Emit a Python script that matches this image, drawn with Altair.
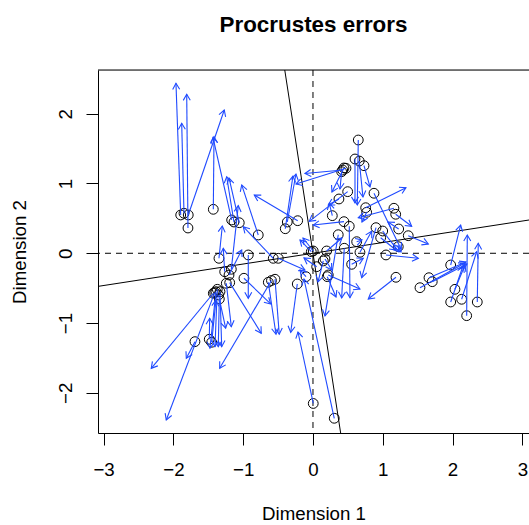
import math
import altair as alt
import pandas as pd

# Procrustes: target points (circles) and rotated points (arrow heads)
circle_x = [-1.895, -1.791, -1.848, -1.787, -1.428, -1.165, -1.132, -1.056, -0.784, -0.219,
            -0.368, -0.397, -1.347, -1.170, -0.569, -0.497, -0.927, -0.989, -1.193, -1.242,
            -1.265, -1.203, -0.640, -0.544, -0.595, -0.225, 0.004, 0.305, -1.428, -1.408,
            -1.390, -1.371, -1.342, -1.332, -1.354, -1.691, -1.486, -1.451, -0.100, -0.024,
            0.649, 0.602, 0.663, 0.731, 0.426, 0.473, 0.444, 0.411, 0.497, 0.372,
            0.277, 0.444, 0.874, 0.755, 0.769, 1.160, 1.185, 1.228, 1.365, 0.903,
            0.999, 0.970, 1.046, 1.222, 1.189, 0.673, 0.626, 0.554, 0.520, 0.448,
            0.362, 0.219, 0.205, 0.004, 0.196, 0.148, 0.053, 0.172, 1.973, 2.202,
            2.354, 2.130, 1.662, 1.709, 1.533, 2.034, 1.973]
circle_y = [0.549, 0.362, 0.573, 0.549, 0.630, 0.477, 0.448, 0.438, 0.262, 0.467,
            0.448, 0.352, -0.072, -0.229, -0.072, -0.072, -0.024, -0.358, -0.421, -0.430,
            -0.264, -0.311, -0.415, -0.372, -0.390, -0.440, -2.152, -2.364, -0.573, -0.564,
            -0.550, -0.516, -0.655, -0.550, -0.597, -1.266, -1.232, -1.275, -0.335, 0.023,
            1.623, 1.351, 1.322, 1.255, 1.193, 1.218, 1.222, 1.169, 0.883, 0.778,
            0.539, 0.453, 0.860, 0.653, 0.587, 0.645, 0.559, 0.348, 0.252, 0.367,
            0.319, 0.223, -0.024, 0.095, -0.344, 0.014, 0.166, -0.158, 0.387, 0.072,
            0.266, -0.311, -0.335, 0.033, 0.033, -0.110, -0.192, -0.082, -0.168, -0.894,
            -0.698, -0.659, -0.350, -0.407, -0.493, -0.516, -0.698]
head_x = [-1.963, -1.809, -1.881, -1.271, -1.418, -1.433, -1.236, -1.203, -1.021, -0.841,
          -0.244, -0.287, -1.299, -1.070, -0.999, -0.115, -0.927, -0.606, -0.741, -1.170,
          -1.285, -1.021, -0.530, -0.483, -1.337, -0.319, -0.215, -0.129, -2.317, -2.102,
          -1.476, -1.404, -1.357, -1.308, -1.251, -1.815, -1.480, -1.390, -0.186, -0.186,
          0.635, 0.602, 0.716, 0.817, -0.115, -0.244, 0.272, 0.387, -0.053, 0.219,
          0.234, 0.004, 1.261, 1.332, 0.702, 0.649, 1.414, 1.074, 1.652, 0.698,
          1.232, 1.189, 1.509, 1.261, 0.792, 0.841, 0.702, 0.721, 0.530, 0.411,
          0.172, 0.673, 0.330, -0.143, 0.415, 0.072, -0.129, 0.269, 2.116, 2.211,
          2.368, 2.345, 2.192, 2.206, 2.178, 2.178, 2.149]
head_y = [2.436, 2.278, 1.862, 2.053, 1.670, 1.659, 1.097, 1.079, 0.979, 0.835,
          1.136, 1.107, 0.391, 0.682, 0.381, -0.239, -0.645, -0.726, -1.146, -1.052,
          0.072, 0.047, -1.160, -1.160, -1.648, -1.132, -1.128, -0.368, -1.648, -2.388,
          -1.361, -1.338, -1.338, -1.338, -1.074, -1.504, -0.931, -0.669, -0.239, 0.191,
          0.692, 0.721, 0.807, 0.950, 1.143, 0.993, 0.878, 0.921, 0.458, 0.692,
          0.716, 0.405, 0.062, 0.940, 0.448, 0.510, 0.387, 0.448, 0.133, -0.350,
          0.019, 0.047, -0.072, 0.019, -0.655, 0.315, 0.191, -0.072, -0.636, -0.640,
          -0.898, -0.511, -0.626, 0.219, 0.219, -0.411, -0.067, -0.239, 0.405, 0.262,
          0.143, 0.023, -0.125, -0.153, -0.139, -0.168, -0.182]

x_ticks = [-3, -2, -1, 0, 1, 2, 3]
y_ticks = [-2, -1, 0, 1, 2]
axis_slope = [0.154]  # slope of the rotated principal axis

x_dom = [-3.080, 3.095]
y_dom = [-2.575, 2.626]

FONT = "Liberation Sans"
BLUE = "#1f4aff"

df = pd.DataFrame({"cx": circle_x, "cy": circle_y, "hx": head_x, "hy": head_y})
df["ang"] = [
    (math.degrees(math.atan2(hx - cx, hy - cy)) + 360) % 360
    for cx, cy, hx, hy in zip(df.cx, df.cy, df.hx, df.hy)
]

s = axis_slope[0]
axes_df = pd.DataFrame({
    "x": [x_dom[0], -s * y_dom[1]],
    "y": [s * x_dom[0], y_dom[1]],
    "x2": [x_dom[1], -s * y_dom[0]],
    "y2": [s * x_dom[1], y_dom[0]],
})

xs = alt.Scale(domain=x_dom, nice=False, zero=False)
ys = alt.Scale(domain=y_dom, nice=False, zero=False)

x_axis = alt.Axis(values=x_ticks, format="d", grid=False, tickSize=12, tickColor="black",
                  domainColor="black", labelColor="black", labelFont=FONT, labelFontSize=18.7,
                  labelPadding=15, title="Dimension 1", titleFont=FONT, titleFontSize=18.7,
                  titleFontWeight="normal", titleColor="black", titleBaseline="alphabetic",
                  titleY=86)
y_axis = alt.Axis(values=y_ticks, format="d", grid=False, tickSize=12, tickColor="black",
                  domainColor="black", labelColor="black", labelFont=FONT, labelFontSize=18.7,
                  labelAngle=270, labelAlign="center", labelBaseline="alphabetic", labelPadding=15,
                  title="Dimension 2", titleFont=FONT, titleFontSize=18.7, titleFontWeight="normal",
                  titleColor="black", titleAngle=270, titleAlign="center",
                  titleBaseline="alphabetic", titleX=-73, titleY=181.5)

base = alt.Chart(df)

circles = base.mark_point(shape="circle", filled=False, size=96, color="black",
                          strokeWidth=1, opacity=1).encode(
    x=alt.X("cx:Q", scale=xs, axis=x_axis),
    y=alt.Y("cy:Q", scale=ys, axis=y_axis),
)

shafts = base.mark_rule(color=BLUE, strokeWidth=1.1).encode(
    x=alt.X("cx:Q", scale=xs), y=alt.Y("cy:Q", scale=ys),
    x2="hx:Q", y2="hy:Q",
)

heads = base.mark_point(shape="M -0.5 0.866 L 0 0 L 0.5 0.866", filled=False, size=196,
                        color=BLUE, strokeWidth=1.1, opacity=1).encode(
    x=alt.X("hx:Q", scale=xs), y=alt.Y("hy:Q", scale=ys),
    angle=alt.Angle("ang:Q", scale=None),
)

zero_df = pd.DataFrame({"v": [0]})
vdash = alt.Chart(zero_df).mark_rule(color="black", strokeDash=[6, 5], strokeWidth=1).encode(
    x=alt.X("v:Q", scale=xs))
hdash = alt.Chart(zero_df).mark_rule(color="black", strokeDash=[6, 5], strokeWidth=1).encode(
    y=alt.Y("v:Q", scale=ys))

rot_axes = alt.Chart(axes_df).mark_rule(color="black", strokeWidth=1, clip=True).encode(
    x=alt.X("x:Q", scale=xs), y=alt.Y("y:Q", scale=ys), x2="x2:Q", y2="y2:Q")

top_frame = alt.Chart(zero_df).mark_rule(color="black", strokeWidth=1).encode(y=alt.value(0))

chart = alt.layer(vdash, hdash, rot_axes, circles, shafts, heads, top_frame).properties(
    width=431, height=363,
    title=alt.TitleParams("Procrustes errors", anchor="middle", font=FONT, fontSize=22.4,
                          fontWeight="bold", color="black", baseline="alphabetic", offset=15),
    autosize=alt.AutoSizeParams(type="none"),
    padding={"left": 98, "top": 70, "right": 0, "bottom": 92},
).configure_view(stroke=None).configure(background="white")

chart.save("out.html", embed_options={"renderer": "svg", "actions": False})
